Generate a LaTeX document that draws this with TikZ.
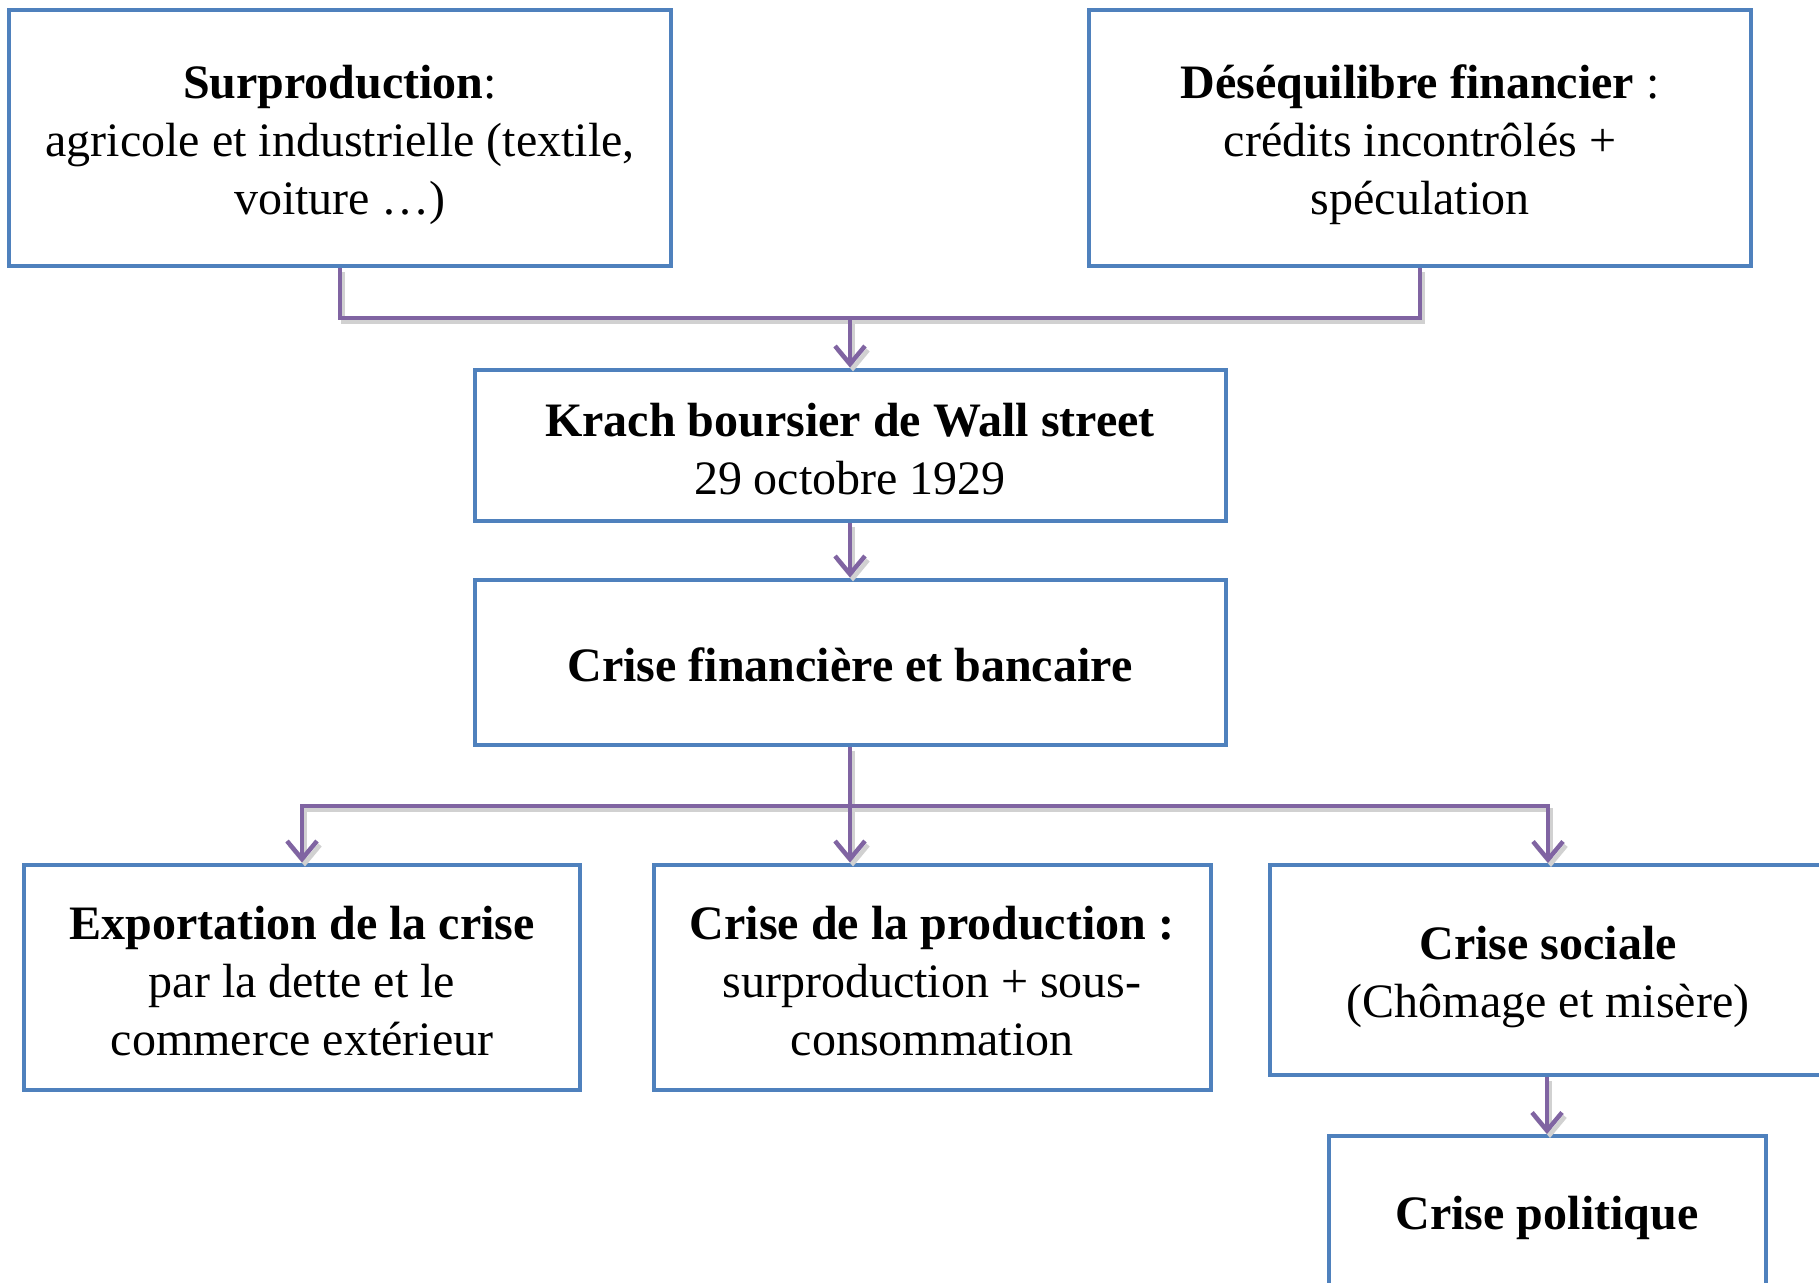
\documentclass[tikz,border=0pt]{standalone}
\usepackage{fontspec}
\setmainfont{Liberation Serif}
\usetikzlibrary{arrows.meta}

\definecolor{boxblue}{HTML}{4F81BD}
\definecolor{linkviolet}{HTML}{8064A2}
\newcommand{\boxstrut}[1][43pt]{\rule{0pt}{#1}}

\begin{document}
\begin{tikzpicture}[x=1pt,y=-1pt,>={Straight Barb[length=18pt,width=30pt]}]
\tikzstyle{every node}=[font=\fontsize{48}{58}\selectfont]
\tikzstyle{box}=[draw=boxblue,line width=4pt,align=center,inner sep=0pt,fill=white]
\tikzstyle{link}=[draw=linkviolet,line width=4.5pt,preaction={draw=black!18,line width=4.5pt,transform canvas={shift={(3pt,-4pt)}}}]

\useasboundingbox (0,0) rectangle (1819,1282);
\clip (0,0) rectangle (1819,1282);

% causes
\node[box,minimum width=662,minimum height=256] (c1) at (340,138)
  {\boxstrut[47pt]\textbf{Surproduction}:\\ agricole et industrielle (textile,\\ voiture \dots)};
\node[box,minimum width=662,minimum height=256] (c2) at (1420,138)
  {\boxstrut[47pt]\textbf{Déséquilibre financier} :\\ crédits incontrôlés +\\ spéculation};

\node[box,minimum width=751,minimum height=151] (k) at (850,445)
  {\boxstrut[41pt]\textbf{Krach boursier de Wall street}\\ 29 octobre 1929};
\node[box,minimum width=751,minimum height=165] (cf) at (850,662)
  {\boxstrut[40pt]\textbf{Crise financière et bancaire}};

% consequences
\node[box,minimum width=556,minimum height=225] (e) at (302,977)
  {\boxstrut[41pt]\textbf{Exportation de la crise}\\ par la dette et le\\ commerce extérieur};
\node[box,minimum width=557,minimum height=225] (p) at (932,977)
  {\boxstrut[41pt]\textbf{Crise de la production :}\\ surproduction + sous-\\ consommation};
\node[box,minimum width=556,minimum height=210] (s) at (1548,970)
  {\boxstrut[48pt]\textbf{Crise sociale}\\ (Chômage et misère)};
\node[box,minimum width=437,minimum height=154] (pol) at (1547,1213)
  {\boxstrut[43pt]\textbf{Crise politique}};

\coordinate (j1) at (850,318);
\coordinate (j2) at (850,806);

\path[link] (c1.south) |- (j1) -| (c2.south);
\path[link,->] (j1) -- (k.north);
\path[link,->] (k.south) -- (cf.north);

\path[link] (cf.south) -- (j2);
\path[link,->] (j2) -| (e.north);
\path[link,->] (j2) -- (j2 |- p.north);
\path[link,->] (j2) -| (s.north);
\path[link,->] (s.south -| pol.north) -- (pol.north);

\end{tikzpicture}
\end{document}
